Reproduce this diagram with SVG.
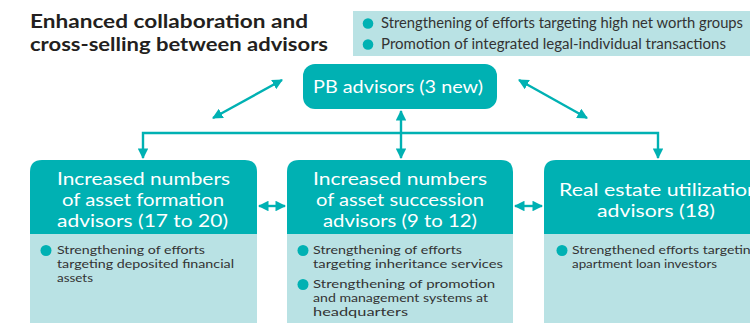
<svg xmlns="http://www.w3.org/2000/svg" width="750" height="323" viewBox="0 0 750 323">
  <defs>
    <style>
      .title { font-family: Lato, "Noto Sans", sans-serif; font-weight: 700; font-size: 19px; fill: #231f20; }
      .note { font-family: Lato, "Noto Sans", sans-serif; font-size: 14.5px; fill: #333333; }
      .head { font-family: Lato, "Noto Sans", sans-serif; font-size: 17.4px; fill: #ffffff; }
      .body { font-family: Lato, "Noto Sans", sans-serif; font-size: 11.6px; fill: #333333; }
      .teal { fill: #00b1b3; }
      .pale { fill: #b9e2e4; }
      .dot { fill: #00b1b3; }
      .link { stroke: #00b1b3; stroke-width: 2.4; fill: none; }
    </style>
    <marker id="tip" viewBox="0 0 10 10" refX="9" refY="5" markerWidth="4.4" markerHeight="4.4" orient="auto-start-reverse" markerUnits="strokeWidth">
      <path d="M0,0 L10,5 L0,10 Z" fill="#00b1b3"/>
    </marker>
  </defs>

  <!-- heading -->
  <g id="title">
    <text class="title" x="30" y="28" textLength="278" lengthAdjust="spacingAndGlyphs">Enhanced collaboration and</text>
    <text class="title" x="30" y="51" textLength="298" lengthAdjust="spacingAndGlyphs">cross-selling between advisors</text>
  </g>

  <!-- PB advisor focus points -->
  <g id="pb-notes">
    <rect class="pale" x="353" y="11" width="397" height="45"/>
    <circle class="dot" cx="368" cy="23.5" r="5.3"/>
    <circle class="dot" cx="368" cy="44.5" r="5.3"/>
    <text class="note" x="381" y="28" textLength="362" lengthAdjust="spacingAndGlyphs">Strengthening of efforts targeting high net worth groups</text>
    <text class="note" x="381" y="49" textLength="345" lengthAdjust="spacingAndGlyphs">Promotion of integrated legal-individual transactions</text>
  </g>

  <!-- connectors -->
  <g id="connectors">
    <line class="link" x1="213" y1="118" x2="282" y2="80" marker-start="url(#tip)" marker-end="url(#tip)"/>
    <line class="link" x1="519" y1="80" x2="587" y2="118" marker-start="url(#tip)" marker-end="url(#tip)"/>
    <polyline class="link" points="143,158 143,133 658,133 658,158" marker-start="url(#tip)" marker-end="url(#tip)"/>
    <line class="link" x1="401" y1="111" x2="401" y2="158" marker-start="url(#tip)" marker-end="url(#tip)"/>
    <line class="link" x1="259" y1="206" x2="285" y2="206" marker-start="url(#tip)" marker-end="url(#tip)"/>
    <line class="link" x1="515" y1="206" x2="542" y2="206" marker-start="url(#tip)" marker-end="url(#tip)"/>
  </g>

  <!-- PB advisors -->
  <g id="pb-advisors">
    <rect class="teal" x="303" y="64" width="194" height="45" rx="12"/>
    <text class="head" x="313" y="93" textLength="170" lengthAdjust="spacingAndGlyphs">PB advisors (3 new)</text>
  </g>

  <!-- asset formation advisors -->
  <g id="asset-formation">
    <path class="teal" d="M30,234 V172 Q30,160 42,160 H245 Q257,160 257,172 V234 Z"/>
    <rect class="pale" x="30" y="234" width="227" height="95"/>
    <text class="head" x="57" y="185" textLength="173" lengthAdjust="spacingAndGlyphs">Increased numbers</text>
    <text class="head" x="62" y="206" textLength="162" lengthAdjust="spacingAndGlyphs">of asset formation</text>
    <text class="head" x="57" y="227" textLength="171" lengthAdjust="spacingAndGlyphs">advisors (17 to 20)</text>
    <circle class="dot" cx="46" cy="250.5" r="5.5"/>
    <text class="body" x="57" y="254" textLength="148" lengthAdjust="spacingAndGlyphs">Strengthening of efforts</text>
    <text class="body" x="57" y="268" textLength="177" lengthAdjust="spacingAndGlyphs">targeting deposited financial</text>
    <text class="body" x="57" y="282" textLength="36" lengthAdjust="spacingAndGlyphs">assets</text>
  </g>

  <!-- asset succession advisors -->
  <g id="asset-succession">
    <path class="teal" d="M287,234 V172 Q287,160 299,160 H501 Q513,160 513,172 V234 Z"/>
    <rect class="pale" x="287" y="234" width="226" height="95"/>
    <text class="head" x="313" y="185" textLength="174" lengthAdjust="spacingAndGlyphs">Increased numbers</text>
    <text class="head" x="316" y="206" textLength="168" lengthAdjust="spacingAndGlyphs">of asset succession</text>
    <text class="head" x="323" y="227" textLength="154" lengthAdjust="spacingAndGlyphs">advisors (9 to 12)</text>
    <circle class="dot" cx="303" cy="250.5" r="5.5"/>
    <text class="body" x="313" y="254" textLength="149" lengthAdjust="spacingAndGlyphs">Strengthening of efforts</text>
    <text class="body" x="313" y="268" textLength="190" lengthAdjust="spacingAndGlyphs">targeting inheritance services</text>
    <circle class="dot" cx="303" cy="284.5" r="5.5"/>
    <text class="body" x="313" y="288" textLength="182" lengthAdjust="spacingAndGlyphs">Strengthening of promotion</text>
    <text class="body" x="313" y="302" textLength="175" lengthAdjust="spacingAndGlyphs">and management systems at</text>
    <text class="body" x="313" y="316" textLength="95" lengthAdjust="spacingAndGlyphs">headquarters</text>
  </g>

  <!-- real estate utilization advisors -->
  <g id="real-estate">
    <path class="teal" d="M544,234 V172 Q544,160 556,160 H759 Q771,160 771,172 V234 Z"/>
    <rect class="pale" x="544" y="234" width="227" height="95"/>
    <text class="head" x="559" y="196" textLength="200" lengthAdjust="spacingAndGlyphs">Real estate utilization</text>
    <text class="head" x="597" y="217" textLength="118" lengthAdjust="spacingAndGlyphs">advisors (18)</text>
    <circle class="dot" cx="562" cy="250.5" r="5.5"/>
    <text class="body" x="572" y="254" textLength="186" lengthAdjust="spacingAndGlyphs">Strengthened efforts targeting</text>
    <text class="body" x="572" y="268" textLength="145" lengthAdjust="spacingAndGlyphs">apartment loan investors</text>
  </g>
</svg>
